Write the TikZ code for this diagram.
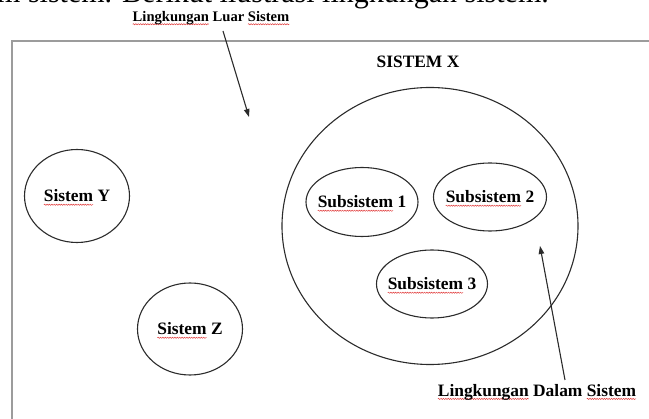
\documentclass[tikz,border=0pt]{standalone}
\usepackage{fontspec}
\setmainfont{Liberation Serif}
\usetikzlibrary{
  arrows.meta,
  shapes.geometric,
  decorations.pathmorphing,
  positioning
}
\definecolor{sysLine}{HTML}{2B2B2B}
\definecolor{sysFrame}{HTML}{9C9C9C}
\definecolor{sysSpell}{HTML}{E03A3A}
\newsavebox{\spellbox}
\newcommand{\spell}[1]{\sbox{\spellbox}{#1}\rlap{\tikz[overlay]\draw[spellwave] (0pt,-2.8pt) -- (\the\wd\spellbox,-2.8pt);}\usebox{\spellbox}}
\tikzset{
  frame/.style={draw=sysFrame, line width=1.4pt},
  sys/.style={draw=sysLine, ellipse, line width=1.1pt, inner sep=0pt},
  syslabel/.style={font=\fontsize{17.4}{20}\selectfont\bfseries, inner sep=0pt, text=black},
  smalllabel/.style={font=\fontsize{14.6}{17}\selectfont\bfseries, inner sep=0pt, text=black},
  pagetext/.style={font=\fontsize{30}{34}\selectfont, inner sep=0pt, text=black},
  pointer/.style={-{Triangle[length=8pt, width=5.5pt]}, line width=1.1pt, sysLine},
  spellwave/.style={sysSpell, line width=0.5pt, decorate, decoration={snake, amplitude=0.6pt, segment length=2.4pt}}
}
\begin{document}
\begin{tikzpicture}[x=1pt, y=-1pt]
  \useasboundingbox (0,0) rectangle (649,419);
  \clip (0,0) rectangle (649,419);
  \draw[frame] (12,41) rectangle (680,450);
  \node[pagetext, anchor=base west] (intro) at (-3,3) {m sistem. Berikut ilustrasi lingkungan sistem.};
  \node[smalllabel] (luar) at (211,18) {\spell{Lingkungan} Luar \spell{Sistem}};
  \node[syslabel] (sysxtext) at (418,62) {SISTEM X};
  \node[sys, minimum width=296pt, minimum height=277pt] (sysx) at (430,226) {};
  \node[sys, minimum width=105pt, minimum height=93pt] (sysy) at (77,196) {};
  \node[syslabel] (sysytext) at (sysy) {\spell{Sistem} Y};
  \node[sys, minimum width=105pt, minimum height=92pt] (sysz) at (190,329) {};
  \node[syslabel] (sysztext) at (sysz) {\spell{Sistem} Z};
  \node[sys, minimum width=112pt, minimum height=69pt] (sub1) at (362,202) {};
  \node[syslabel] (sub1text) at (sub1) {\spell{Subsistem} 1};
  \node[sys, minimum width=113pt, minimum height=68pt] (sub2) at (490,197) {};
  \node[syslabel] (sub2text) at (sub2) {\spell{Subsistem} 2};
  \node[sys, minimum width=111pt, minimum height=68pt] (sub3) at (432,284) {};
  \node[syslabel] (sub3text) at (sub3) {\spell{Subsistem} 3};
  \node[syslabel] (dalam) at (537,392) {\spell{Lingkungan} Dalam \spell{Sistem}};
  \coordinate (luarTail) at (223,31);
  \coordinate (luarTip) at (249,117);
  \coordinate (dalamTail) at (565,380);
  \coordinate (dalamTip) at (540,246);
  \draw[pointer] (luarTail) -- (luarTip);
  \draw[pointer] (dalamTail) -- (dalamTip);
\end{tikzpicture}
\end{document}
